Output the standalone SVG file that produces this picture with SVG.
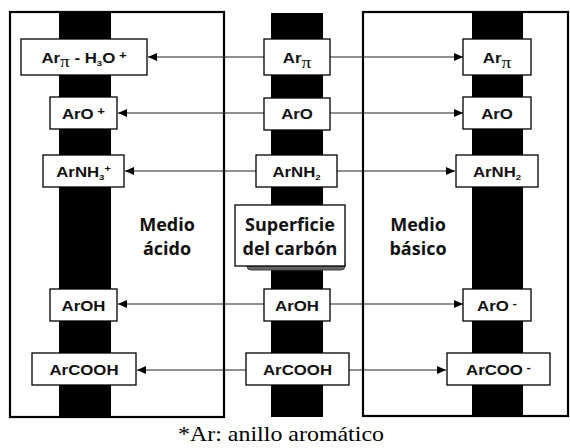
<svg xmlns="http://www.w3.org/2000/svg" width="570" height="448" viewBox="0 0 570 448">
<defs>
<style>
.panel{fill:#fff;stroke:#000;stroke-width:2.2}
.bar{fill:#000}
.box{fill:#fff;stroke:#000;stroke-width:1.3}
.lbl{font-family:"Liberation Sans",Arial,sans-serif;font-weight:bold;font-size:14px;fill:#111;text-anchor:middle}
.pi{font-family:"Liberation Serif","Times New Roman",serif;font-weight:normal;font-size:16px}
.big{font-family:"Open Sans","Liberation Sans",sans-serif;font-weight:bold;font-size:18px;fill:#111;text-anchor:middle}
.cap{font-family:"Liberation Serif","Times New Roman",serif;font-size:21px;fill:#000}
.conn line{stroke:#222;stroke-width:1.1;marker-end:url(#ah)}
</style>
<marker id="ah" markerWidth="10" markerHeight="10" refX="9" refY="4" orient="auto" markerUnits="userSpaceOnUse">
<path d="M0,0 L9,4 L0,8 z" fill="#000"/>
</marker>
</defs>
<rect width="570" height="448" fill="#fff"/>

<g id="panel-acido">
<rect class="panel" x="10" y="12" width="214" height="405"/>
<rect class="bar" x="59" y="12" width="52" height="405"/>
<text class="big" x="167" y="231">Medio</text>
<text class="big" x="167" y="255">ácido</text>
</g>
<g id="panel-superficie">
<rect class="bar" x="271" y="13" width="52" height="404"/>
</g>
<g id="panel-basico">
<rect class="panel" x="363" y="12" width="205" height="404"/>
<rect class="bar" x="472" y="12" width="51" height="404"/>
<text class="big" x="418" y="231">Medio</text>
<text class="big" x="418" y="255">básico</text>
</g>

<g id="connectors" class="conn">
<line x1="264" y1="57" x2="148" y2="57"/>
<line x1="330" y1="57" x2="463" y2="57"/>
<line x1="264" y1="113" x2="118" y2="113"/>
<line x1="330" y1="113" x2="463" y2="113"/>
<line x1="256" y1="171" x2="125" y2="171"/>
<line x1="337" y1="171" x2="455" y2="171"/>
<line x1="264" y1="304" x2="118" y2="304"/>
<line x1="330" y1="304" x2="463" y2="304"/>
<line x1="246" y1="370" x2="137" y2="370"/>
<line x1="349" y1="370" x2="446" y2="370"/>
</g>

<g id="left-arpi-h3o">
<rect class="box" x="21" y="39" width="126" height="36"/>
<text class="lbl" transform="translate(84,63) scale(1.2,1)">Ar<tspan class="pi" dy="4">π</tspan><tspan dy="-4"> - H</tspan><tspan font-size="8" dy="3">3</tspan><tspan dy="-3">O</tspan><tspan font-size="11" dy="-4"> +</tspan></text>
</g>
<g id="mid-arpi">
<rect class="box" x="264" y="39" width="66" height="36"/>
<text class="lbl" transform="translate(297,63) scale(1.2,1)">Ar<tspan class="pi" dy="5">π</tspan></text>
</g>
<g id="right-arpi">
<rect class="box" x="463" y="39" width="68" height="36"/>
<text class="lbl" transform="translate(497,63) scale(1.2,1)">Ar<tspan class="pi" dy="5">π</tspan></text>
</g>

<g id="left-aro-plus">
<rect class="box" x="50" y="97" width="67" height="32"/>
<text class="lbl" transform="translate(83.5,118.5) scale(1.2,1)">ArO<tspan font-size="11" dy="-4"> +</tspan></text>
</g>
<g id="mid-aro">
<rect class="box" x="264" y="98" width="66" height="32"/>
<text class="lbl" transform="translate(297,119) scale(1.2,1)">ArO</text>
</g>
<g id="right-aro">
<rect class="box" x="463" y="97" width="68" height="32"/>
<text class="lbl" transform="translate(497,118.5) scale(1.2,1)">ArO</text>
</g>

<g id="left-arnh3">
<rect class="box" x="43" y="155" width="81" height="32"/>
<text class="lbl" transform="translate(83.5,176.5) scale(1.2,1)">ArNH<tspan font-size="8" dy="3">3</tspan><tspan font-size="9" dy="-8">+</tspan></text>
</g>
<g id="mid-arnh2">
<rect class="box" x="256" y="155" width="81" height="32"/>
<text class="lbl" transform="translate(296.5,176.5) scale(1.2,1)">ArNH<tspan font-size="8" dy="3">2</tspan></text>
</g>
<g id="right-arnh2">
<rect class="box" x="456" y="155" width="82" height="32"/>
<text class="lbl" transform="translate(497,176.5) scale(1.2,1)">ArNH<tspan font-size="8" dy="3">2</tspan></text>
</g>

<g id="superficie">
<path d="M247,262 L247,266 Q247,270 251,270 L341,270 Q345,270 345,266 L345,262" fill="#666" stroke="#444" stroke-width="1"/>
<rect class="box" x="235" y="205" width="110" height="61"/>
<text class="big" x="290" y="231">Superficie</text>
<text class="big" x="290" y="255">del carbón</text>
</g>

<g id="left-aroh">
<rect class="box" x="50" y="289" width="67" height="32"/>
<text class="lbl" transform="translate(83.5,310.5) scale(1.2,1)">ArOH</text>
</g>
<g id="mid-aroh">
<rect class="box" x="264" y="289" width="66" height="32"/>
<text class="lbl" transform="translate(297,310.5) scale(1.2,1)">ArOH</text>
</g>
<g id="right-aro-minus">
<rect class="box" x="463" y="289" width="68" height="32"/>
<text class="lbl" transform="translate(497,310.5) scale(1.2,1)">ArO<tspan font-size="11" dy="-4"> -</tspan></text>
</g>

<g id="left-arcooh">
<rect class="box" x="32" y="353" width="104" height="32"/>
<text class="lbl" transform="translate(84,374.5) scale(1.2,1)">ArCOOH</text>
</g>
<g id="mid-arcooh">
<rect class="box" x="246" y="353" width="103" height="32"/>
<text class="lbl" transform="translate(297.5,374.5) scale(1.2,1)">ArCOOH</text>
</g>
<g id="right-arcoo-minus">
<rect class="box" x="447" y="353" width="103" height="32"/>
<text class="lbl" transform="translate(498.5,374.5) scale(1.2,1)">ArCOO<tspan font-size="11" dy="-4"> -</tspan></text>
</g>

<text class="cap" x="178" y="441" textLength="206" lengthAdjust="spacingAndGlyphs">*Ar: anillo aromático</text>
</svg>
